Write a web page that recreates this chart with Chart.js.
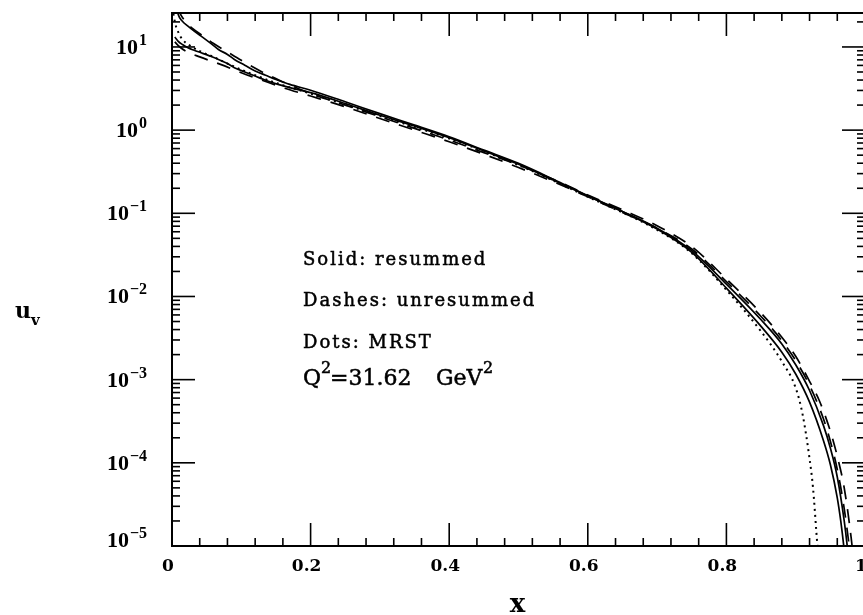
<!DOCTYPE html>
<html><head><meta charset="utf-8">
<style>
html,body{margin:0;padding:0;background:#fff;overflow:hidden;width:863px;height:615px}
#wrap{width:880px;height:615px}
</style>
<script src="https://cdn.jsdelivr.net/npm/chart.js@4/dist/chart.umd.min.js"></script>
</head><body><div id="wrap"><canvas id="c" width="880" height="615"></canvas></div>
<script>
// ---- data ----
const solidA_x = [0.006,0.009,0.015,0.023,0.032,0.042,0.055,0.067,0.08,0.09,0.105,0.12,0.135,0.15,0.17,0.2,0.25,0.3,0.35,0.4,0.45,0.5,0.55,0.6,0.65,0.7,0.75,0.8,0.85,0.88,0.9,0.92,0.94,0.95,0.96,0.965,0.97,0.975];
const solidA_y = [33.1,24.5,20.4,17.8,15.5,13.5,11.2,9.33,8.13,7.08,6.03,5.13,4.57,4.07,3.55,3.02,2.19,1.58,1.15,0.832,0.575,0.398,0.257,0.162,0.105,0.0646,0.0339,0.0126,0.00437,0.00214,0.00117,0.000537,0.000186,0.0000955,0.000038,0.00002,0.0000089,0.0000032];

const solidB_x = [0.004,0.009,0.015,0.023,0.032,0.042,0.055,0.067,0.08,0.09,0.105,0.12,0.135,0.153,0.17,0.2,0.25,0.3,0.35,0.4,0.45,0.5,0.55,0.6,0.65,0.7,0.75,0.8,0.85,0.88,0.9,0.92,0.94,0.95,0.96,0.97,0.975,0.98];
const solidB_y = [13.2,11.7,10.7,9.77,9.12,8.51,7.76,7.08,6.31,5.62,5.01,4.47,3.98,3.55,3.24,2.82,2.09,1.51,1.12,0.813,0.562,0.389,0.251,0.162,0.105,0.0661,0.0355,0.0141,0.00525,0.00269,0.00151,0.000741,0.000282,0.000151,0.0000676,0.00002,0.0000089,0.0000032];

const dashA_x = [0.008,0.012,0.02,0.03,0.045,0.06,0.08,0.1,0.13,0.16,0.2,0.25,0.3,0.35,0.4,0.45,0.5,0.55,0.6,0.65,0.7,0.75,0.8,0.85,0.88,0.9,0.92,0.934,0.95,0.96,0.97,0.98,0.985,0.99];
const dashA_y = [30.5,25.0,20.0,16.6,13.5,11.0,8.7,6.9,5.01,3.80,2.75,2.00,1.45,1.05,0.759,0.537,0.380,0.257,0.166,0.110,0.0708,0.0398,0.0162,0.00631,0.00324,0.00191,0.000955,0.000562,0.00024,0.00012,0.00005,0.0000126,0.000005,0.0000016];

const dashB_x = [0.004,0.01,0.02,0.04,0.07,0.1,0.13,0.16,0.2,0.25,0.3,0.35,0.4,0.45,0.5,0.55,0.6,0.65,0.7,0.75,0.8,0.85,0.88,0.9,0.92,0.94,0.95,0.96,0.97,0.98,0.985];
const dashB_y = [11.5,10.2,8.91,7.59,6.17,4.90,3.98,3.24,2.57,1.91,1.38,1.00,0.724,0.513,0.355,0.240,0.158,0.102,0.0661,0.0372,0.0151,0.00575,0.00295,0.0017,0.000851,0.000339,0.000182,0.0000832,0.0000282,0.0000063,0.0000025];

const dots_x = [0.002,0.005,0.01,0.015,0.025,0.04,0.06,0.08,0.12,0.16,0.2,0.3,0.4,0.5,0.6,0.7,0.75,0.8,0.85,0.88,0.9,0.91,0.92,0.925,0.93,0.935,0.94];
const dots_y = [25.1,18.6,14.5,12.3,10.5,8.91,7.59,6.31,4.57,3.47,2.75,1.48,0.794,0.380,0.158,0.0631,0.0331,0.012,0.0038,0.00166,0.000794,0.00038,0.000112,0.00005,0.0000141,0.000004,0.000001];

const xTickLabels = ['0','0.2','0.4','0.6','0.8','1'];
const yDecadeExponents = [-5,-4,-3,-2,-1,0,1];
const notes = ['Solid: resummed','Dashes: unresummed','Dots: MRST'];
const qLabel = ['Q','2','=31.62','GeV','2'];

const pts = (xs, ys) => xs.map((v, i) => ({x: v, y: ys[i]}));
const base = {showLine: true, pointRadius: 0, borderColor: '#000', cubicInterpolationMode: 'monotone', fill: false};

const frame = {
  id: 'frame',
  afterDraw(chart) {
    const {ctx, chartArea: a, scales: {x, y}} = chart;
    ctx.save();
    ctx.strokeStyle = '#000';
    ctx.fillStyle = '#000';
    ctx.lineWidth = 2;
    ctx.strokeRect(a.left, a.top, a.right - a.left, a.bottom - a.top);
    ctx.lineWidth = 1.6;
    const line = (x1, y1, x2, y2) => { ctx.beginPath(); ctx.moveTo(x1, y1); ctx.lineTo(x2, y2); ctx.stroke(); };
    for (let i = 0; i <= 25; i++) {
      const px = x.getPixelForValue(i * 0.04);
      const L = (i % 5 === 0) ? 23 : 8;
      line(px, a.bottom, px, a.bottom - L);
      line(px, a.top, px, a.top + L);
    }
    for (const e of yDecadeExponents) {
      for (let m = 1; m <= 9; m++) {
        const v = m * Math.pow(10, e);
        if (v > y.max) break;
        const py = y.getPixelForValue(v);
        const L = m === 1 ? 23 : 8;
        line(a.left, py, a.left + L, py);
        line(a.right, py, a.right - L, py);
      }
    }
    // y labels
    const right = a.left - 25;
    ctx.textBaseline = 'alphabetic';
    ctx.textAlign = 'left';
    for (const e of yDecadeExponents) {
      let py = y.getPixelForValue(Math.pow(10, e));
      if (e === yDecadeExponents[0]) py -= 6;
      const expTxt = e < 0 ? '\u2212' + (-e) : String(e);
      ctx.font = 'bold 16px "Liberation Serif"';
      const ew = ctx.measureText(expTxt).width;
      ctx.font = 'bold 22px "Liberation Serif"';
      const bw = ctx.measureText('10').width;
      ctx.fillText('10', right - ew - bw - 1, py + 7);
      ctx.font = 'bold 16px "Liberation Serif"';
      ctx.fillText(expTxt, right - ew, py - 2);
    }
    // annotations
    const tx = a.left + 131;
    ctx.lineWidth = 0.5;
    ctx.font = '18px "DejaVu Serif"';
    ctx.letterSpacing = '2px';
    const both = (t, px, py) => { ctx.fillText(t, px, py); ctx.strokeText(t, px, py); };
    both(notes[0], tx, 265);
    both(notes[1], tx, 306);
    both(notes[2], tx, 348);
    ctx.letterSpacing = '0px';
    ctx.font = '22px "DejaVu Serif"';
    both(qLabel[0], tx, 385);
    ctx.font = '16px "DejaVu Serif"';
    both(qLabel[1], tx + 18, 373);
    ctx.font = '22px "DejaVu Serif"';
    both(qLabel[2], tx + 27, 385);
    both(qLabel[3], tx + 133, 385);
    ctx.font = '16px "DejaVu Serif"';
    both(qLabel[4], tx + 180, 373);
    // axis titles
    ctx.font = 'bold 22px "DejaVu Serif"';
    ctx.fillText('u', 15, 318);
    ctx.font = 'bold 15px "DejaVu Serif"';
    ctx.fillText('v', 31, 325);
    ctx.font = 'bold 26px "DejaVu Serif"';
    ctx.textAlign = 'center';
    ctx.fillText('x', (a.left + a.right) / 2 - 1, 612);
    ctx.restore();
  }
};

new Chart(document.getElementById('c'), {
  type: 'scatter',
  data: {
    datasets: [
      {...base, label: 'resummed A', data: pts(solidA_x, solidA_y), borderWidth: 1.7},
      {...base, label: 'resummed B', data: pts(solidB_x, solidB_y), borderWidth: 1.7},
      {...base, label: 'unresummed A', data: pts(dashA_x, dashA_y), borderWidth: 1.7, borderDash: [14, 10]},
      {...base, label: 'unresummed B', data: pts(dashB_x, dashB_y), borderWidth: 1.7, borderDash: [14, 10]},
      {...base, label: 'MRST', data: pts(dots_x, dots_y), borderWidth: 2, borderDash: [2, 4]}
    ]
  },
  options: {
    responsive: false,
    animation: false,
    devicePixelRatio: 1,
    layout: {padding: {left: 0, right: 15, top: 13, bottom: 0}},
    plugins: {legend: {display: false}, tooltip: {enabled: false}},
    scales: {
      x: {
        type: 'linear', min: 0, max: 1,
        grid: {display: false, drawTicks: false},
        border: {display: false},
        ticks: {
          stepSize: 0.2, autoSkip: false, maxRotation: 0, padding: 10, labelOffset: -4,
          color: '#000', font: {family: 'DejaVu Serif', weight: 'bold', size: 17},
          callback: v => xTickLabels[Math.round(v / 0.2)]
        },
        afterFit: s => { s.height = 69; s.paddingLeft = 0; s.paddingRight = 0; }
      },
      y: {
        type: 'logarithmic', min: 1e-5, max: 25.6,
        grid: {display: false, drawTicks: false},
        border: {display: false},
        ticks: {display: false},
        afterFit: s => { s.width = 172; s.paddingTop = 0; s.paddingBottom = 0; }
      }
    }
  },
  plugins: [frame]
});
</script>
</body></html>
